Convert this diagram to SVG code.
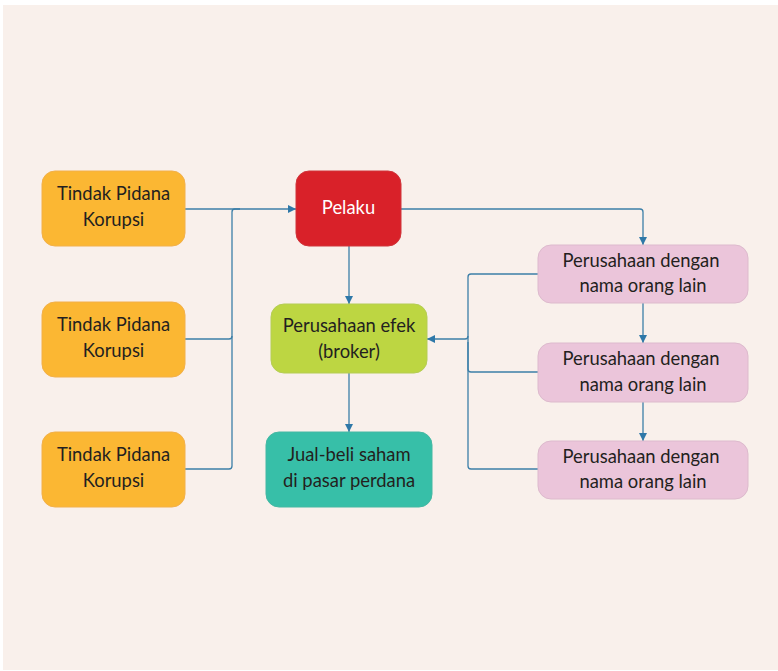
<svg xmlns="http://www.w3.org/2000/svg" width="778" height="671" viewBox="0 0 778 671">
  <style>
    .box { stroke-width: 1; }
    .orange { fill: #FBB733; stroke: #F2B04A; }
    .red { fill: #D92129; stroke: #D0343A; }
    .green { fill: #BDD642; stroke: #B5CD55; }
    .teal { fill: #37BFA8; stroke: #45B8A3; }
    .pink { fill: #EBC5DA; stroke: #DDBACD; }
    .label { font-family: Lato, "Noto Sans", "Liberation Sans", sans-serif; font-size: 18.4px; fill: #231F20; text-anchor: middle; }
    .white { fill: #FFFFFF; }
    .link { fill: none; stroke: #3C7FA8; stroke-width: 1.3; }
  </style>
  <defs>
    <marker id="arrow" viewBox="0 0 10 10" refX="10" refY="5" markerWidth="8" markerHeight="8" markerUnits="userSpaceOnUse" orient="auto">
      <path d="M0,0 L10,5 L0,10 z" fill="#2F78A8"/>
    </marker>
  </defs>

  <rect x="0" y="0" width="778" height="671" fill="#FFFFFF"/>
  <rect x="3" y="5" width="775" height="665" fill="#F9F0EB"/>

  <g id="connectors">
    <path class="link" d="M185,209 H296" marker-end="url(#arrow)"/>
    <path class="link" d="M185,339 H229 Q232,339 232,336 V212 Q232,209 235,209 H240"/>
    <path class="link" d="M185,469 H229 Q232,469 232,466 V336"/>
    <path class="link" d="M349,246 V304" marker-end="url(#arrow)"/>
    <path class="link" d="M349,373 V432" marker-end="url(#arrow)"/>
    <path class="link" d="M401,209 H640 Q643,209 643,212 V245" marker-end="url(#arrow)"/>
    <path class="link" d="M643,303 V343" marker-end="url(#arrow)"/>
    <path class="link" d="M643,402 V441" marker-end="url(#arrow)"/>
    <path class="link" d="M538,274 H471 Q468,274 468,277 V466 Q468,469 471,469 H538"/>
    <path class="link" d="M538,372 H471 Q468,372 468,369 V342"/>
    <path class="link" d="M468,336 Q468,339 465,339 H427" marker-end="url(#arrow)"/>
  </g>

  <g id="korupsi-1">
    <rect class="box orange" x="42" y="171" width="143" height="75" rx="13"/>
    <text class="label" x="113.5" y="200">Tindak Pidana</text>
    <text class="label" x="113.5" y="226">Korupsi</text>
  </g>
  <g id="korupsi-2">
    <rect class="box orange" x="42" y="302" width="143" height="75" rx="13"/>
    <text class="label" x="113.5" y="331">Tindak Pidana</text>
    <text class="label" x="113.5" y="357">Korupsi</text>
  </g>
  <g id="korupsi-3">
    <rect class="box orange" x="42" y="432" width="143" height="75" rx="13"/>
    <text class="label" x="113.5" y="461">Tindak Pidana</text>
    <text class="label" x="113.5" y="487">Korupsi</text>
  </g>
  <g id="pelaku">
    <rect class="box red" x="296" y="171" width="105" height="75" rx="13"/>
    <text class="label white" x="348.5" y="214">Pelaku</text>
  </g>
  <g id="perusahaan-efek">
    <rect class="box green" x="271" y="304" width="156" height="69" rx="13"/>
    <text class="label" x="349" y="332">Perusahaan efek</text>
    <text class="label" x="349" y="358">(broker)</text>
  </g>
  <g id="jual-beli">
    <rect class="box teal" x="266" y="432" width="166" height="75" rx="13"/>
    <text class="label" x="349" y="461">Jual-beli saham</text>
    <text class="label" x="349" y="487">di pasar perdana</text>
  </g>
  <g id="perusahaan-1">
    <rect class="box pink" x="538" y="245" width="210" height="58" rx="13"/>
    <text class="label" x="641" y="267">Perusahaan dengan</text>
    <text class="label" x="643" y="292">nama orang lain</text>
  </g>
  <g id="perusahaan-2">
    <rect class="box pink" x="538" y="343" width="210" height="59" rx="13"/>
    <text class="label" x="641" y="365">Perusahaan dengan</text>
    <text class="label" x="643" y="391">nama orang lain</text>
  </g>
  <g id="perusahaan-3">
    <rect class="box pink" x="538" y="441" width="210" height="58" rx="13"/>
    <text class="label" x="641" y="463">Perusahaan dengan</text>
    <text class="label" x="643" y="488">nama orang lain</text>
  </g>
</svg>
